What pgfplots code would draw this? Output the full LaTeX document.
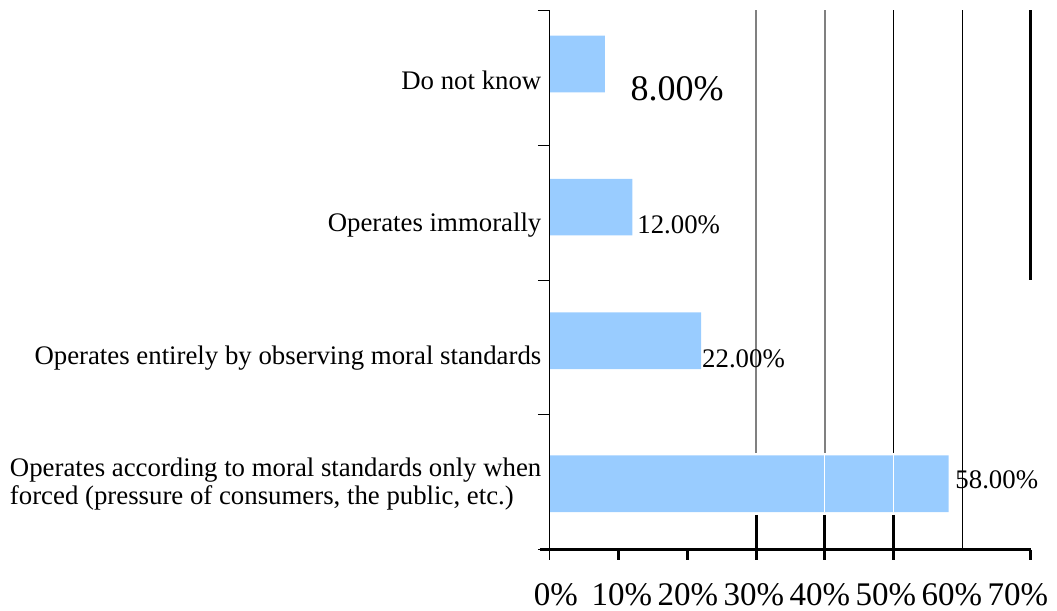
\documentclass[border=0pt]{standalone}
\usepackage{pgfplots}
\pgfplotsset{compat=1.18}
\usepackage{fontspec}
\setmainfont{Liberation Serif}
\definecolor{barblue}{RGB}{153,204,255}
\begin{document}
\begin{tikzpicture}
\useasboundingbox (-275pt,-30.5pt) rectangle (253.5pt,275pt);
\begin{axis}[
  scale only axis, width=240.5pt, height=270pt,
  xmin=0, xmax=70, ymin=0, ymax=4,
  clip=false,
  axis line style={draw=none},
  xtick={0,10,...,70},
  xticklabels={0\%,10\%,20\%,30\%,40\%,50\%,60\%,70\%},
  xticklabel style={font=\fontsize{16.5pt}{19pt}\selectfont, yshift=-13pt, xshift={3pt-1.36pt*\ticknum}},
  xtick pos=bottom, xtick style={draw=none},
  ytick={0,1,2,3,4}, yticklabels={},
  ytick pos=left, ytick align=outside,
  ytick style={black, line width=0.5pt},
  major tick length=6pt,
]
% gridlines
\draw[gray, line width=0.8pt] (axis cs:30,4) -- (axis cs:30,0.72);
\draw[gray, line width=0.8pt] (axis cs:40,4) -- (axis cs:40,0.72);
\draw[black, line width=0.5pt] (axis cs:50,4) -- (axis cs:50,0.72);
\draw[black, line width=0.5pt] (axis cs:60,4) -- (axis cs:60,0);
\draw[black, line width=1.5pt] (axis cs:70,4) -- (axis cs:70,2);

\addplot[xbar, bar width=0.42, fill=barblue, draw=none]
  coordinates {(58,0.49) (22,1.55) (12,2.54) (8,3.6)};

% white separators in the long bar
\draw[white, line width=0.5pt] (axis cs:40,0.72) -- (axis cs:40,0.28);
\draw[white, line width=0.5pt] (axis cs:50,0.72) -- (axis cs:50,0.28);

% axes
\draw[black, line width=0.5pt] (axis cs:0,4) -- (axis cs:0,-0.074);
\draw[black, line width=1.5pt] (axis cs:-1.46,0) -- (axis cs:70,0);
% ticks
\draw[black, line width=1.5pt] (axis cs:10,0) -- (axis cs:10,-0.074);
\draw[black, line width=1.5pt] (axis cs:20,0) -- (axis cs:20,-0.074);
\draw[black, line width=1.5pt] (axis cs:70,0) -- (axis cs:70,-0.074);
\draw[black, line width=1.5pt] (axis cs:30,0.26) -- (axis cs:30,-0.074);
\draw[black, line width=1.5pt] (axis cs:40,0.26) -- (axis cs:40,-0.074);
\draw[black, line width=1.5pt] (axis cs:50,0.26) -- (axis cs:50,-0.074);

% value labels
\node[font=\fontsize{18pt}{21pt}\selectfont, inner sep=0pt] at (axis cs:18.5,3.42) {8.00\%};
\node[font=\fontsize{13.4pt}{15pt}\selectfont, anchor=west, inner sep=0pt] at (axis cs:12.66,2.41) {12.00\%};
\node[font=\fontsize{13.4pt}{15pt}\selectfont, anchor=west, inner sep=0pt] at (axis cs:22.1,1.42) {22.00\%};
\node[font=\fontsize{13.4pt}{15pt}\selectfont, anchor=west, inner sep=0pt] at (axis cs:58.95,0.52) {58.00\%};

% category labels
\node[font=\fontsize{13.4pt}{15pt}\selectfont, anchor=east, inner sep=0pt] at (axis cs:-1.2,3.48) {Do not know};
\node[font=\fontsize{13.4pt}{15pt}\selectfont, anchor=east, inner sep=0pt] at (axis cs:-1.2,2.41) {Operates immorally};
\node[font=\fontsize{13.4pt}{15pt}\selectfont, anchor=east, inner sep=0pt] at (axis cs:-1.2,1.42) {Operates entirely by observing moral standards};
\node[font=\fontsize{13.4pt}{14pt}\selectfont, anchor=east, inner sep=0pt, align=left] at (axis cs:-1.2,0.49) {Operates according to moral standards only when\\forced (pressure of consumers, the public, etc.)};
\end{axis}
\end{tikzpicture}
\end{document}
